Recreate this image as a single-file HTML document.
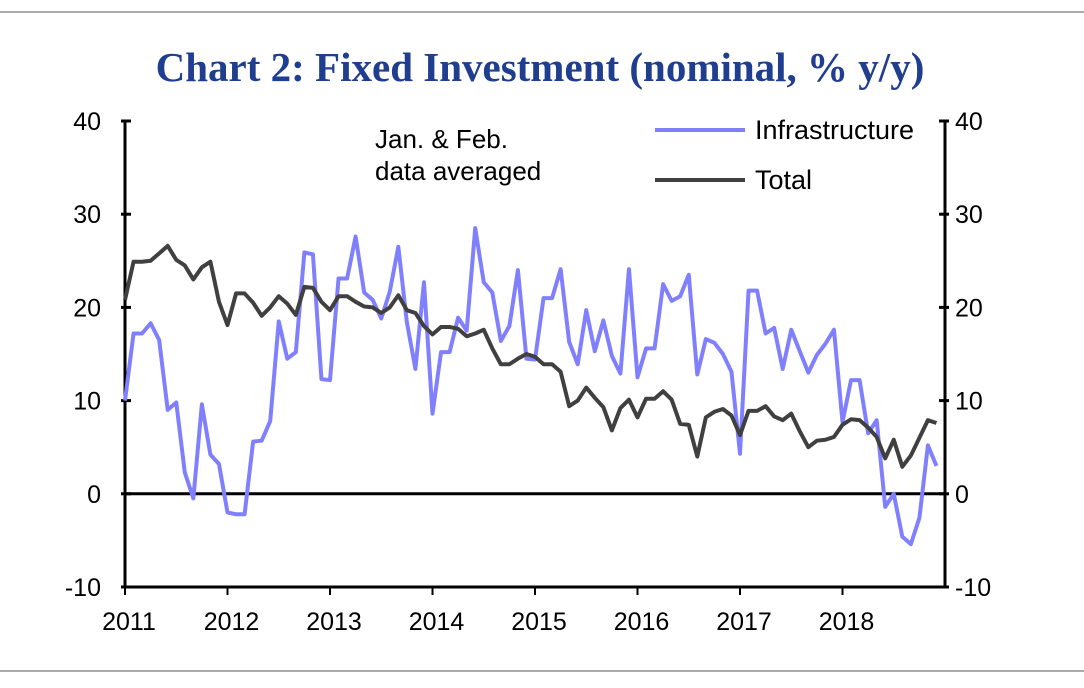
<!DOCTYPE html>
<html><head><meta charset="utf-8"><style>
body{margin:0;background:#fff;width:1084px;height:683px;overflow:hidden}
text{font-family:"Liberation Sans",sans-serif}
</style></head><body>
<svg id="c" width="1084" height="683" xmlns="http://www.w3.org/2000/svg">
<line x1="0" y1="12" x2="1084" y2="12" stroke="#aaa" stroke-width="2"/>
<line x1="0" y1="671" x2="1084" y2="671" stroke="#aaa" stroke-width="2"/>
<text x="540" y="81" text-anchor="middle" font-size="41" font-weight="bold" fill="#1f3e8f" style="font-family:'Liberation Serif',serif">Chart 2: Fixed Investment (nominal, % y/y)</text>
<text x="375" y="148" font-size="26" fill="#000">Jan. &amp; Feb.</text>
<text x="375" y="180" font-size="26" fill="#000">data averaged</text>
<line x1="655" y1="130" x2="745" y2="130" stroke="#8080ff" stroke-width="4"/>
<text x="755" y="139" font-size="27">Infrastructure</text>
<line x1="655" y1="180" x2="745" y2="180" stroke="#404040" stroke-width="4"/>
<text x="755" y="189" font-size="27">Total</text>
<g id="axes"></g>
<g id="series"></g>
</svg>
<script>
const yTicks=[-10,0,10,20,30,40];
const xYears=[2011,2012,2013,2014,2015,2016,2017,2018];
const infrastructure=[10,17.2,17.2,18.3,16.5,9,9.8,2.3,-0.5,9.6,4.2,3.2,
-2,-2.2,-2.2,5.6,5.7,7.8,18.5,14.5,15.2,25.9,25.7,12.3,
12.2,23.1,23.1,27.6,21.6,20.8,18.8,21.7,26.5,18.4,13.4,22.7,
8.6,15.2,15.2,18.9,17.5,28.5,22.7,21.6,16.4,18.0,24.0,14.5,
14.4,21.0,21.0,24.1,16.3,13.9,19.7,15.3,18.6,14.8,12.9,24.1,
12.5,15.6,15.6,22.5,20.7,21.2,23.5,12.8,16.6,16.2,15.0,13.1,
4.3,21.8,21.8,17.2,17.8,13.4,17.6,15.3,13.0,14.9,16.1,17.6,
7.7,12.2,12.2,6.5,7.9,-1.4,0,-4.6,-5.4,-2.6,5.2,3.0];
const total=[20.8,24.9,24.9,25.0,25.8,26.6,25.1,24.5,23.0,24.3,24.9,20.6,
18.1,21.5,21.5,20.5,19.1,20.0,21.2,20.4,19.2,22.2,22.1,20.6,
19.7,21.2,21.2,20.6,20.1,20.0,19.4,20.0,21.3,19.7,19.4,18.0,
17.1,17.9,17.9,17.7,16.9,17.2,17.6,15.6,13.9,13.9,14.5,15.0,
14.7,13.9,13.9,13.1,9.4,10.0,11.4,10.3,9.3,6.8,9.2,10.1,
8.2,10.2,10.2,11.0,10.1,7.5,7.4,4.0,8.2,8.8,9.1,8.4,
6.3,8.9,8.9,9.4,8.3,7.9,8.6,6.7,5.0,5.7,5.8,6.1,
7.4,8.0,7.9,7.1,6.1,3.8,5.8,2.9,4.1,6.0,7.9,7.6];
const NS='http://www.w3.org/2000/svg';
const L=125,R=945,T=121,B=587;
const y=v=>B-(v+10)/50*(B-T);
const x=i=>L+i*(R-L)/96;
function mk(t,a,p){const e=document.createElementNS(NS,t);for(const k in a)e.setAttribute(k,a[k]);p.appendChild(e);return e;}
const ax=document.getElementById('axes'),se=document.getElementById('series');
let e=mk('line',{x1:L,y1:T,x2:L,y2:B,stroke:'#000','stroke-width':3},ax);


e=mk('line',{x1:R,y1:T,x2:R,y2:B,stroke:'#000','stroke-width':3},ax);


e=mk('line',{x1:L,y1:B,x2:R,y2:B,stroke:'#000','stroke-width':3},ax);


e=mk('line',{x1:L,y1:y(0),x2:R,y2:y(0),stroke:'#000','stroke-width':3},ax);


yTicks.forEach(v=>{
 mk('line',{x1:L-4,y1:y(v),x2:L+6,y2:y(v),stroke:'#000','stroke-width':3},ax);
 mk('line',{x1:R-6,y1:y(v),x2:R+4,y2:y(v),stroke:'#000','stroke-width':3},ax);
 let t=mk('text',{x:L-24,y:y(v)+9,'text-anchor':'end','font-size':25},ax);t.textContent=v;
 
 
 t=mk('text',{x:R+10,y:y(v)+9,'font-size':25},ax);t.textContent=v;
 
 
});
xYears.forEach((yr,k)=>{
 const px=x(k*12);
 mk('line',{x1:px,y1:B,x2:px,y2:B+8,stroke:'#000','stroke-width':2},ax);
 const t=mk('text',{x:px+4,y:B+43,'text-anchor':'middle','font-size':25},ax);t.textContent=yr;
 
 
});
function line(d,c,n){
 const p=mk('polyline',{points:d.map((v,i)=>x(i)+','+y(v)).join(' '),fill:'none',stroke:c,'stroke-width':4,'stroke-linejoin':'round'},se);
 
 
}
line(infrastructure,'#8080ff','infrastructure-line');
line(total,'#404040','total-line');
</script>
</body></html>
